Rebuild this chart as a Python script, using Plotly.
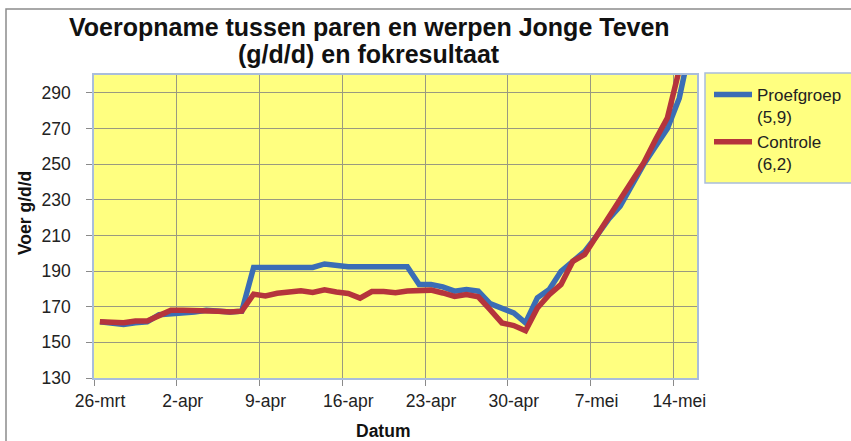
import plotly.graph_objects as go
import pandas as pd

# ---------------- data ----------------
start_date = "2011-03-26"
proefgroep = [161.5, 161, 160, 161, 161.5, 165.5, 166, 166, 167, 168,
              167.5, 167, 167.5, 192, 192, 192, 192, 192, 192, 194,
              193, 192.4, 192.4, 192.4, 192.4, 192.4, 192.4, 182.4, 182.4, 181.1,
              178.7, 179.6, 178.7, 171.7, 169.3, 166.5, 161, 175, 179.6, 189.9,
              195.5, 201, 209.6, 218.9, 226.4, 238.6, 250, 260, 270, 287, 318]
controle = [161.5, 161.5, 161, 162, 162, 165, 168, 168, 168, 168,
            167.5, 167, 167.5, 177, 176, 177.5, 178, 179, 178, 179.5,
            178.3, 177.4, 174.8, 178.5, 178.5, 177.8, 178.8, 179.3, 179.3, 177.7,
            175.8, 176.8, 175.5, 168.4, 160.9, 159.4, 156.5, 169.3, 176.8, 182.5,
            195.5, 199.3, 209.6, 218.9, 229.2, 239.5, 250.8, 263.8, 276, 303, 330]
series_names = ["Proefgroep<br>(5,9)", "Controle<br>(6,2)"]
tick_dates = ["2011-03-26", "2011-04-02", "2011-04-09", "2011-04-16",
              "2011-04-23", "2011-04-30", "2011-05-07", "2011-05-14"]
tick_labels = ["26-mrt", "2-apr", "9-apr", "16-apr", "23-apr", "30-apr", "7-mei", "14-mei"]
y_ticks = [130, 150, 170, 190, 210, 230, 250, 270, 290]
x_range = ["2011-03-26", "2011-05-16"]
y_range = [130, 300]

# ---------------- layout geometry ----------------
W, H = 851, 441
L, R, T, B = 94, 154, 75, 63
PW, PH = W - L - R, H - T - B


def px_x(px):
    return (px - L) / PW


def px_y(py):
    return (H - B - py) / PH


FONT = "Liberation Sans, Arial, sans-serif"
# Excel "between tick marks" date axis: each day's point sits mid-day
dates = pd.date_range(start_date, periods=len(proefgroep), freq="D") + pd.Timedelta(hours=12)

fig = go.Figure()
fig.add_trace(go.Scatter(x=dates, y=proefgroep, mode="lines", name=series_names[0],
                         line=dict(color="#3b6db5", width=5.5)))
fig.add_trace(go.Scatter(x=dates, y=controle, mode="lines", name=series_names[1],
                         line=dict(color="#b5343c", width=5.5)))

grid_col = "#9a9a80"
fig.update_xaxes(type="date", range=x_range, tickvals=tick_dates, ticktext=tick_labels,
                 showgrid=True, gridcolor=grid_col, gridwidth=1,
                 ticks="outside", ticklen=6, tickcolor="#8a8a8a",
                 showline=True, linecolor="#a9bddb", linewidth=1.5, mirror=True,
                 tickfont=dict(family=FONT, size=17.5, color="#222222"),
                 ticklabelshift=6, ticklabelstandoff=0, zeroline=False)
fig.update_yaxes(range=y_range, tickvals=y_ticks,
                 showgrid=True, gridcolor=grid_col, gridwidth=1,
                 ticks="outside", ticklen=6, tickcolor="#8a8a8a",
                 showline=True, linecolor="#a9bddb", linewidth=1.5, mirror=True,
                 tickfont=dict(family=FONT, size=17.5, color="#222222"),
                 ticklabelstandoff=12, zeroline=False)

shapes = [
    # outer chart border (cropped at right/bottom)
    dict(type="rect", xref="paper", yref="paper",
         x0=px_x(6), x1=px_x(W + 20), y0=px_y(H + 20), y1=px_y(9),
         line=dict(color="#8c8c8c", width=1.5), fillcolor="rgba(0,0,0,0)", layer="below"),
    # legend box (cropped at right)
    dict(type="rect", xref="paper", yref="paper",
         x0=px_x(705), x1=px_x(W + 20), y0=px_y(183), y1=px_y(73),
         line=dict(color="#a9bddb", width=1.5), fillcolor="#ffff80", layer="below"),
]

annotations = [
    dict(text="<b>Voeropname tussen paren en werpen Jonge Teven</b>", xref="paper", yref="paper",
         x=px_x(369), y=px_y(27), xanchor="center", yanchor="middle", showarrow=False,
         font=dict(family=FONT, size=25, color="#111111")),
    dict(text="<b>(g/d/d) en fokresultaat</b>", xref="paper", yref="paper",
         x=px_x(369), y=px_y(54), xanchor="center", yanchor="middle", showarrow=False,
         font=dict(family=FONT, size=25, color="#111111")),
    dict(text="<b>Voer g/d/d</b>", xref="paper", yref="paper",
         x=px_x(25), y=px_y(213), xanchor="center", yanchor="middle", showarrow=False,
         textangle=-90, font=dict(family=FONT, size=17.5, color="#111111")),
    dict(text="<b>Datum</b>", xref="paper", yref="paper",
         x=px_x(383), y=px_y(431), xanchor="center", yanchor="middle", showarrow=False,
         font=dict(family=FONT, size=17.5, color="#111111")),
]

fig.update_layout(
    width=W, height=H,
    margin=dict(l=L, r=R, t=T, b=B, autoexpand=False),
    paper_bgcolor="white", plot_bgcolor="#ffff80",
    shapes=shapes, annotations=annotations,
    showlegend=True,
    legend=dict(x=px_x(709), y=px_y(77), xanchor="left", yanchor="top",
                bgcolor="rgba(0,0,0,0)", borderwidth=0, itemwidth=38, valign="top",
                tracegroupgap=4,
                font=dict(family=FONT, size=17, color="#222222")),
)

fig.write_html("out.html", config={"displayModeBar": False},
               post_script="document.body.style.margin='0';document.body.style.overflow='hidden';")
